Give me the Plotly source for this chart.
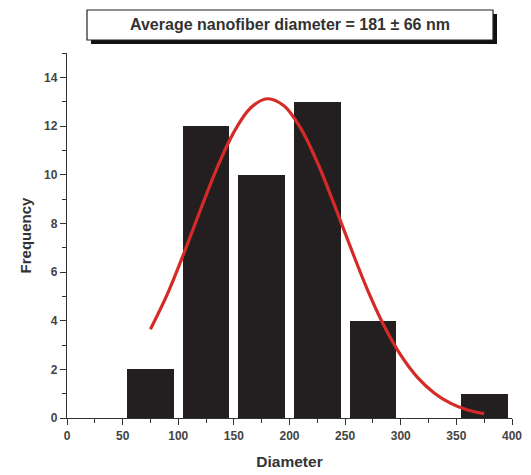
import plotly.graph_objects as go

# Histogram data
bin_centers = [75, 125, 175, 225, 275, 325, 375]
frequency = [2, 12, 10, 13, 4, 0, 1]

# Fitted (Gaussian-shaped) curve points
curve_x = [75, 90, 105, 120, 135, 150, 165, 180, 195, 210, 225, 240, 255, 270, 285, 300, 315, 330, 345, 360, 375]
curve_y = [3.65, 5.07, 6.76, 8.56, 10.29, 11.75, 12.74, 13.12, 12.83, 11.91, 10.51, 8.8, 7.0, 5.28, 3.79,
           2.58, 1.67, 1.03, 0.6, 0.33, 0.18]

x_ticks = [0, 50, 100, 150, 200, 250, 300, 350, 400]
y_ticks = [0, 2, 4, 6, 8, 10, 12, 14]

title_text = "Average nanofiber diameter = 181 ± 66 nm"

FONT = "Liberation Sans, Arial, sans-serif"

fig = go.Figure()
fig.add_trace(go.Bar(x=bin_centers, y=frequency, width=42,
                     marker=dict(color="#231f20", line=dict(width=0)),
                     showlegend=False))
fig.add_trace(go.Scatter(x=curve_x, y=curve_y, mode="lines",
                         line=dict(color="#d62a27", width=3.2, shape="spline", smoothing=1),
                         showlegend=False))

axis_common = dict(showgrid=False, zeroline=False, showline=True, linecolor="#333",
                   linewidth=1.3, ticks="outside", ticklen=6, tickwidth=1.2, tickcolor="#333",
                   automargin=False,
                   tickfont=dict(family=FONT, size=12, color="#444", weight="bold"))

fig.update_xaxes(range=[0, 400], tickvals=x_ticks, ticktext=[str(v) for v in x_ticks],
                 minor=dict(ticks="outside", dtick=25, tick0=0, ticklen=4, tickcolor="#333", tickwidth=1.1),
                 title=dict(text="Diameter", font=dict(family=FONT, size=15.5, color="#333", weight="bold"), standoff=14),
                 **axis_common)
fig.update_yaxes(range=[0, 15], tickvals=y_ticks, ticktext=[str(v) for v in y_ticks],
                 minor=dict(ticks="outside", dtick=1, tick0=0, ticklen=4, tickcolor="#333", tickwidth=1.1),
                 title=dict(text="Frequency", font=dict(family=FONT, size=15, color="#333", weight="bold"), standoff=8),
                 **axis_common)

# Title box with shadow
x0, x1 = (87 - 67) / 445, (493 - 67) / 445
y1, y0 = (418 - 10) / 365, (418 - 40) / 365
dx, dy = 4 / 445, 4 / 365
fig.add_shape(type="rect", xref="paper", yref="paper", x0=x0 + dx, x1=x1 + dx, y0=y0 - dy, y1=y1 - dy,
              fillcolor="#111", line=dict(width=0), layer="above")
fig.add_shape(type="rect", xref="paper", yref="paper", x0=x0, x1=x1, y0=y0, y1=y1,
              fillcolor="white", line=dict(color="#222", width=1.2), layer="above")
fig.add_annotation(xref="paper", yref="paper", x=(x0 + x1) / 2, y=(y0 + y1) / 2,
                   text=title_text, showarrow=False, xanchor="center", yanchor="middle",
                   font=dict(family=FONT, size=16, color="#333", weight="bold"))

fig.update_layout(width=531, height=475, margin=dict(l=67, r=19, t=53, b=57),
                  plot_bgcolor="white", paper_bgcolor="white", bargap=0)

fig.write_html("out.html")
